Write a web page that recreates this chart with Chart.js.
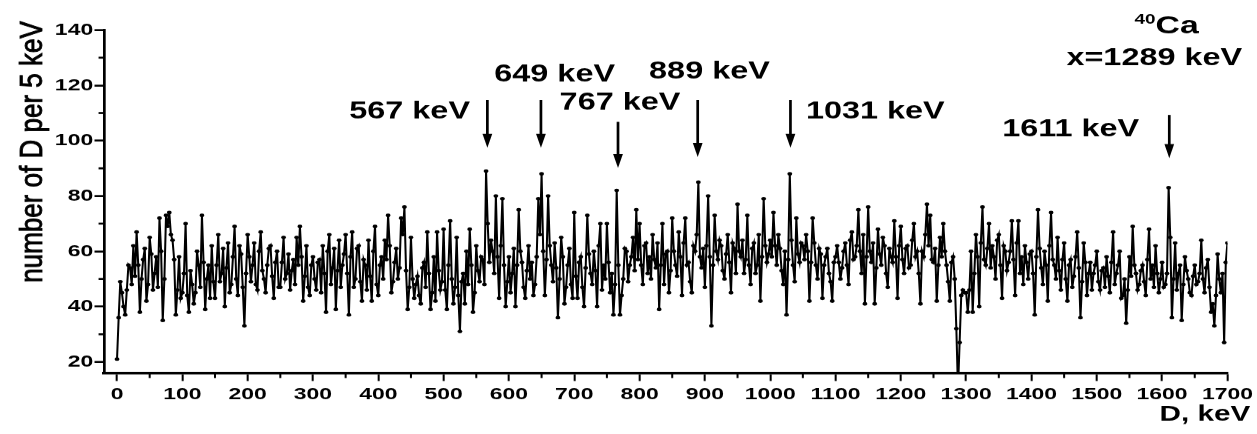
<!DOCTYPE html>
<html>
<head>
<meta charset="utf-8">
<title>D spectrum</title>
<script src="https://cdn.jsdelivr.net/npm/chart.js@4"></script>
<style>
  html, body { margin: 0; padding: 0; background: #fff; overflow: hidden; }
  /* the plot is laid out narrow and stretched sideways, like the original figure */
  #wrap { width: 931px; height: 434px; transform: scaleX(1.35016); transform-origin: 0 0; }
</style>
</head>
<body>
<div id="wrap"><canvas id="chart" width="931" height="434"></canvas></div>
<script>
/* ---------- data ---------- */
const binStep = 2.5; // keV between points (5 keV bins, overlapping), first at 0 keV

// counts per 5 keV, 0 ... 1700 keV (20 points = 50 keV per row)
const counts = [
  21, 36, 49, 45, 40, 37, 46, 55, 54, 48, 62, 51, 67, 55, 38, 50, 57, 61, 42, 48,
  65, 59, 46, 52, 58, 47, 72, 60, 35, 50, 73, 69, 74, 66, 64, 57, 37, 46, 58, 43,
  45, 52, 70, 44, 38, 53, 48, 41, 45, 60, 55, 47, 73, 56, 39, 50, 55, 43, 62, 49,
  43, 55, 66, 49, 52, 61, 40, 54, 63, 45, 48, 58, 69, 50, 44, 62, 59, 47, 33, 52,
  66, 58, 49, 55, 63, 48, 46, 60, 67, 53, 50, 45, 55, 61, 62, 51, 43, 56, 60, 47,
  47, 56, 65, 50, 52, 59, 46, 53, 57, 48, 65, 55, 69, 58, 42, 51, 62, 47, 44, 55,
  58, 50, 46, 56, 57, 45, 62, 52, 38, 60, 66, 48, 54, 61, 39, 53, 64, 47, 55, 59,
  66, 52, 37, 58, 67, 47, 50, 61, 62, 49, 42, 57, 55, 46, 64, 51, 42, 60, 69, 48,
  44, 55, 58, 50, 64, 57, 73, 62, 45, 49, 56, 61, 50, 54, 72, 66, 76, 53, 39, 47,
  65, 50, 43, 48, 51, 44, 41, 54, 56, 47, 67, 52, 39, 45, 58, 42, 67, 53, 46, 49,
  68, 46, 39, 55, 71, 50, 41, 47, 65, 44, 31, 49, 52, 41, 60, 48, 68, 55, 38, 45,
  62, 53, 49, 58, 57, 48, 89, 70, 56, 64, 60, 52, 80, 58, 43, 62, 79, 55, 40, 49,
  58, 45, 52, 61, 40, 55, 75, 60, 56, 47, 43, 53, 62, 50, 56, 44, 48, 58, 79, 66,
  88, 60, 44, 57, 80, 62, 55, 49, 63, 54, 36, 50, 65, 58, 41, 47, 55, 61, 48, 43,
  74, 51, 43, 56, 58, 47, 40, 54, 73, 59, 52, 48, 60, 53, 40, 62, 70, 46, 55, 50,
  70, 56, 45, 52, 37, 48, 82, 55, 37, 44, 50, 61, 60, 49, 55, 58, 65, 53, 75, 57,
  70, 55, 48, 62, 63, 52, 58, 50, 66, 57, 54, 63, 39, 55, 70, 48, 59, 60, 45, 53,
  72, 60, 55, 51, 67, 58, 44, 63, 72, 55, 56, 49, 45, 62, 60, 66, 85, 58, 54, 61,
  47, 62, 80, 58, 33, 55, 73, 60, 57, 64, 62, 53, 50, 59, 66, 56, 45, 63, 61, 52,
  77, 60, 58, 64, 52, 57, 73, 55, 48, 61, 63, 52, 55, 66, 42, 58, 79, 62, 56, 59,
  64, 58, 74, 62, 55, 66, 61, 53, 48, 60, 37, 57, 88, 64, 55, 49, 72, 59, 56, 63,
  62, 57, 66, 60, 42, 56, 72, 63, 55, 50, 61, 59, 43, 55, 58, 61, 52, 49, 42, 56,
  58, 62, 56, 50, 54, 60, 63, 55, 48, 64, 67, 57, 58, 62, 75, 60, 52, 66, 41, 58,
  76, 60, 56, 63, 41, 54, 68, 59, 55, 65, 62, 52, 47, 61, 58, 56, 71, 58, 43, 62,
  69, 57, 52, 61, 62, 54, 55, 64, 70, 58, 60, 52, 41, 60, 58, 66, 77, 62, 73, 57,
  56, 61, 42, 55, 65, 58, 70, 60, 55, 49, 42, 56, 58, 50, 32, 10, 27, 44, 46, 45,
  45, 38, 46, 60, 38, 52, 66, 58, 40, 63, 76, 57, 55, 61, 70, 54, 62, 58, 50, 64,
  66, 55, 43, 62, 60, 53, 56, 60, 71, 57, 44, 63, 71, 52, 58, 48, 62, 56, 50, 59,
  60, 52, 37, 58, 75, 61, 54, 48, 60, 55, 42, 62, 74, 57, 55, 50, 65, 53, 46, 57,
  63, 50, 42, 55, 57, 47, 51, 58, 67, 54, 36, 49, 63, 56, 44, 52, 56, 46, 52, 55,
  60, 49, 46, 53, 54, 47, 58, 51, 45, 56, 67, 48, 52, 55, 60, 43, 44, 50, 34, 46,
  58, 51, 69, 55, 52, 46, 48, 53, 55, 49, 44, 57, 68, 50, 55, 47, 62, 52, 45, 50,
  56, 47, 48, 52, 83, 65, 36, 50, 63, 46, 52, 55, 35, 48, 58, 53, 50, 45, 44, 51,
  55, 48, 49, 52, 64, 50, 45, 54, 57, 47, 38, 41, 33, 44, 59, 50, 45, 52, 27, 56,
  63
];

// axis ticks
const xTicks = [0, 100, 200, 300, 400, 500, 600, 700, 800, 900, 1000, 1100, 1200, 1300, 1400, 1500, 1600, 1700];
const xMinorTicks = [50, 150, 250, 350, 450, 550, 650, 750, 850, 950, 1050, 1150, 1250, 1350, 1450, 1550, 1650];
const yTicks = [20, 40, 60, 80, 100, 120, 140];
const yMinorTicks = [30, 50, 70, 90, 110, 130];

// marked lines (keV) and their arrows (top / tip, in counts)
const peakEnergies = [567, 649, 767, 889, 1031, 1611];
const arrowTop = [114.7, 114.7, 106.8, 114.7, 114.7, 109.3];
const arrowTip = [97.4, 97.4, 90.1, 94.1, 97.4, 93.7];

/* ---------- label layout (x in keV, y = baseline in counts) ---------- */
const peakLabels = [
  { text: '567 keV', x: 448, y: 108.0 },
  { text: '649 keV', x: 670, y: 121.4 },
  { text: '767 keV', x: 770, y: 111.3 },
  { text: '889 keV', x: 907, y: 122.5 },
  { text: '1031 keV', x: 1161, y: 108.0 },
  { text: '1611 keV', x: 1460, y: 101.5 },
  { text: 'x=1289 keV', x: 1588, y: 127.2 }
];
const caLabel = { mass: '40', sym: 'Ca', x: 1607, y: 138.7 };

const FONT = '"Liberation Sans", Arial, Helvetica, sans-serif';

const points = counts.map((c, i) => ({ x: i * binStep, y: c }));

/* ---------- extra drawing: minor ticks, arrows, texts, axis titles ---------- */
const annotate = {
  id: 'annotate',
  afterDraw(chart) {
    const { ctx, chartArea: area, scales: { x, y } } = chart;
    ctx.save();
    ctx.strokeStyle = '#000';
    ctx.fillStyle = '#000';
    ctx.lineCap = 'butt';

    const line = (x1, y1, x2, y2) => {
      ctx.beginPath(); ctx.moveTo(x1, y1); ctx.lineTo(x2, y2); ctx.stroke();
    };

    // minor ticks
    ctx.lineWidth = 1.5;
    xMinorTicks.forEach(v => {
      const px = x.getPixelForValue(v);
      line(px, area.bottom, px, area.bottom + 5);
    });
    ctx.lineWidth = 2;
    yMinorTicks.forEach(v => {
      const py = y.getPixelForValue(v);
      line(area.left - 4, py, area.left, py);
    });

    // arrows
    peakEnergies.forEach((e, i) => {
      const px = x.getPixelForValue(e);
      const top = y.getPixelForValue(arrowTop[i]);
      const tip = y.getPixelForValue(arrowTip[i]);
      ctx.lineWidth = 2;
      line(px, top, px, tip - 8);
      ctx.beginPath();
      ctx.moveTo(px - 3.6, tip - 14);
      ctx.lineTo(px + 3.6, tip - 14);
      ctx.lineTo(px, tip);
      ctx.closePath();
      ctx.fill();
    });

    // peak labels
    ctx.font = 'bold 24px ' + FONT;
    ctx.textAlign = 'center';
    ctx.textBaseline = 'alphabetic';
    peakLabels.forEach(l => {
      ctx.fillText(l.text, x.getPixelForValue(l.x), y.getPixelForValue(l.y));
    });

    // 40Ca with superscript mass number
    ctx.textAlign = 'left';
    ctx.font = 'bold 14px ' + FONT;
    const wMass = ctx.measureText(caLabel.mass).width;
    ctx.font = 'bold 25px ' + FONT;
    const wSym = ctx.measureText(caLabel.sym).width;
    const cx = x.getPixelForValue(caLabel.x);
    const by = y.getPixelForValue(caLabel.y);
    const x0 = cx - (wMass + wSym) / 2;
    ctx.fillText(caLabel.sym, x0 + wMass, by);
    ctx.font = 'bold 14px ' + FONT;
    ctx.fillText(caLabel.mass, x0, by - 10);

    // axis titles
    ctx.font = 'bold 22px ' + FONT;
    ctx.textAlign = 'right';
    ctx.fillText('D, keV', 926, 421);

    ctx.font = '26px ' + FONT;
    ctx.textAlign = 'center';
    ctx.textBaseline = 'middle';
    ctx.lineWidth = 0.7;
    ctx.translate(24.4, 152);
    ctx.rotate(-Math.PI / 2);
    ctx.scale(1, 0.9);
    ctx.fillText('number of D per 5 keV', 0, 0);
    ctx.strokeText('number of D per 5 keV', 0, 0);

    ctx.restore();
  }
};

/* ---------- chart ---------- */
const tickFont = { family: FONT, size: 17, weight: 'bold' };

new Chart(document.getElementById('chart').getContext('2d'), {
  type: 'line',
  data: {
    datasets: [{
      data: points,
      borderColor: '#000',
      borderWidth: 1.5,
      pointRadius: 1.8,
      pointBackgroundColor: '#000',
      pointBorderWidth: 0,
      tension: 0
    }]
  },
  options: {
    responsive: false,
    animation: false,
    devicePixelRatio: 1.35016,
    layout: { padding: { top: 30, right: 21.4, left: 0, bottom: 0 } },
    plugins: { legend: { display: false }, tooltip: { enabled: false } },
    scales: {
      x: {
        type: 'linear',
        min: -20,
        max: 1700,
        afterBuildTicks: s => { s.ticks = xTicks.map(v => ({ value: v })); },
        afterFit: s => { s.height = 61; },
        grid: { drawOnChartArea: false, tickLength: 8, tickWidth: 1.5, tickColor: '#000' },
        border: { color: '#000', width: 2.5 },
        ticks: { color: '#000', font: tickFont, padding: 3, maxRotation: 0, autoSkip: false, callback: v => String(v) }
      },
      y: {
        min: 16,
        max: 140,
        afterBuildTicks: s => { s.ticks = yTicks.map(v => ({ value: v })); },
        afterFit: s => { s.width = 77; },
        grid: { drawOnChartArea: false, tickLength: 7, tickWidth: 2, tickColor: '#000' },
        border: { color: '#000', width: 2 },
        ticks: { color: '#000', font: tickFont, padding: 1, autoSkip: false, callback: v => String(v) }
      }
    }
  },
  plugins: [annotate]
});
</script>
</body>
</html>
